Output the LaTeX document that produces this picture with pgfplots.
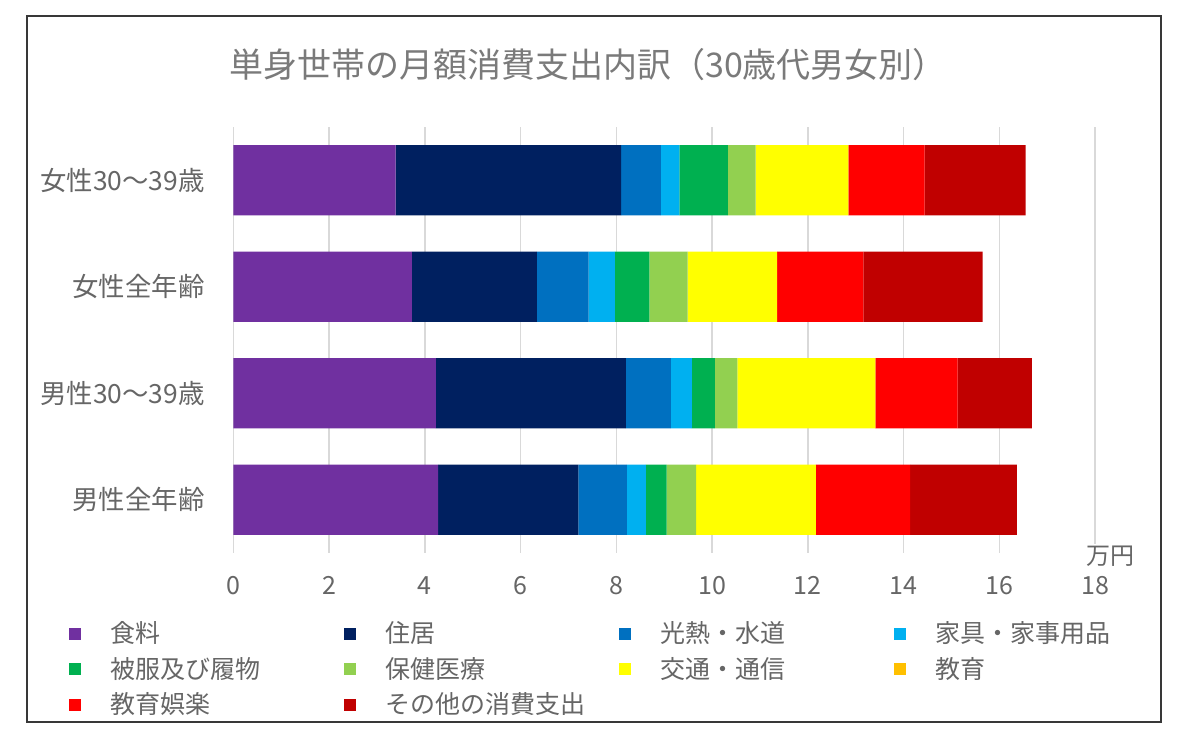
\documentclass[border=0pt]{standalone}
\usepackage{fontspec}
\setmainfont{Noto Sans CJK JP}
\usepackage{pgfplots}
\pgfplotsset{compat=1.18}
\usepackage{pgfplotstable}

\definecolor{cFood}{HTML}{7030A0}
\definecolor{cHousing}{HTML}{002060}
\definecolor{cUtil}{HTML}{0070C0}
\definecolor{cFurn}{HTML}{00B0F0}
\definecolor{cCloth}{HTML}{00B050}
\definecolor{cHealth}{HTML}{92D050}
\definecolor{cTrans}{HTML}{FFFF00}
\definecolor{cEdu}{HTML}{FFC000}
\definecolor{cCult}{HTML}{FF0000}
\definecolor{cOther}{HTML}{C00000}
\definecolor{txtgray}{HTML}{666666}
\definecolor{titlegray}{HTML}{7A7A7A}
\definecolor{gridgray}{HTML}{D9D9D9}

% monthly consumption expenditure, 10,000 yen
% y: 0 = female 30-39, 1 = female all ages, 2 = male 30-39, 3 = male all ages
\pgfplotstableread{
y food housing util furn cloth health trans edu cult other
0 3.39 4.71 0.83 0.39 1.01 0.58 1.94 0 1.59 2.11
1 3.73 2.61 1.08 0.55 0.72 0.80 1.87 0 1.80 2.49
2 4.23 3.97 0.94 0.44 0.48 0.47 2.88 0 1.72 1.55
3 4.28 2.93 1.01 0.40 0.43 0.62 2.50 0 1.97 2.23
}\spending

\begin{document}
\begin{tikzpicture}
\path[use as bounding box] (0,0) rectangle (600pt,372pt);
\fill[white] (0,0) rectangle (600pt,372pt);
\draw[line width=1.1pt, color=black!78] (13.5pt,11pt) rectangle (580.5pt,364pt);

\node[text=titlegray, font=\fontsize{17}{20}\selectfont] at (294pt,339.5pt)
  {単身世帯の月額消費支出内訳（30歳代男女別）};

\begin{axis}[
  at={(116.65pt,95.5pt)}, anchor=south west,
  scale only axis, width=430.85pt, height=213pt,
  xbar stacked, bar width=0.66,
  xmin=0, xmax=18, ymin=-0.5, ymax=3.5,
  y dir=reverse,
  xtick={0,2,...,18},
  ytick={0,1,2,3},
  yticklabels={女性30〜39歳,女性全年齢,男性30〜39歳,男性全年齢},
  xmajorgrids, ymajorgrids=false,
  grid style={color=gridgray, line width=0.75pt},
  axis line style={draw=none},
  major tick length=0pt,
  /pgf/number format/assume math mode=true,
  xticklabel style={text=txtgray, font=\fontsize{12.5}{15}\selectfont,
    anchor=base, yshift=-20.5pt},
  yticklabel style={text=txtgray, font=\fontsize{13.2}{16}\selectfont,
    anchor=east, inner sep=0pt, xshift=-14.15pt},
  legend columns=4,
  legend cell align=left,
  legend image code/.code={\fill[#1] (0pt,-3pt) rectangle (6pt,3pt);},
  legend style={
    at={(-0.1907,-0.1585)}, anchor=north west,
    draw=none, fill=none, inner sep=0pt, row sep=4.75pt,
    nodes={inner sep=0pt, text width=117pt, text height=11pt, text depth=2pt,
      text=txtgray, font=\fontsize{12.5}{15}\selectfont},
    /tikz/every odd column/.append style={column sep=14.5pt},
  },
]
\addplot[fill=cFood, draw=none] table[x=food, y=y] {\spending};
\addplot[fill=cHousing, draw=none] table[x=housing, y=y] {\spending};
\addplot[fill=cUtil, draw=none] table[x=util, y=y] {\spending};
\addplot[fill=cFurn, draw=none] table[x=furn, y=y] {\spending};
\addplot[fill=cCloth, draw=none] table[x=cloth, y=y] {\spending};
\addplot[fill=cHealth, draw=none] table[x=health, y=y] {\spending};
\addplot[fill=cTrans, draw=none] table[x=trans, y=y] {\spending};
\addplot[fill=cEdu, draw=none] table[x=edu, y=y] {\spending};
\addplot[fill=cCult, draw=none] table[x=cult, y=y] {\spending};
\addplot[fill=cOther, draw=none] table[x=other, y=y] {\spending};
\legend{食料,住居,光熱・水道,家具・家事用品,被服及び履物,保健医療,交通・通信,教育,教育娯楽,その他の消費支出}
\end{axis}

\node[fill=white, inner sep=1pt, text=txtgray, font=\fontsize{12}{14}\selectfont]
  at (555pt,94pt) {万円};
\end{tikzpicture}
\end{document}
